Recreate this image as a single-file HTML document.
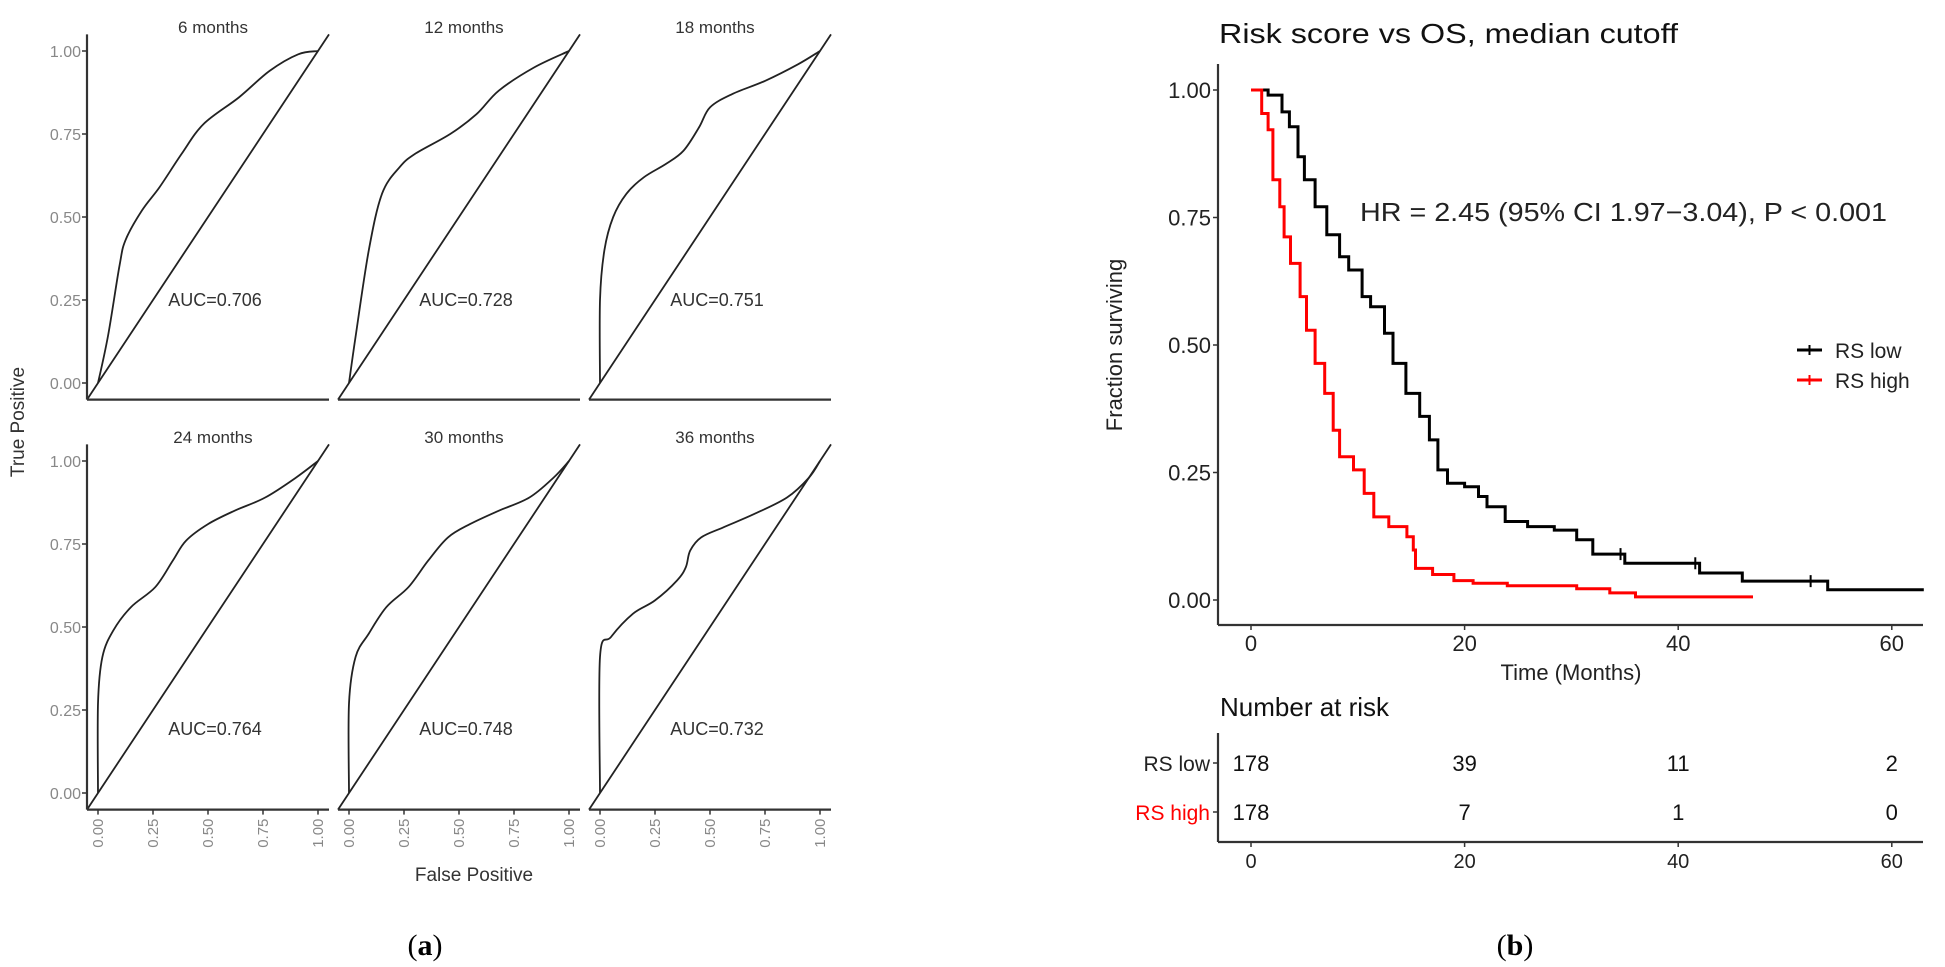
<!DOCTYPE html>
<html><head><meta charset="utf-8"><style>
html,body{margin:0;padding:0;background:#fff;}
svg{display:block;font-family:"Liberation Sans",Arial,sans-serif;}
</style></head><body>
<svg id="fig" width="1945" height="967" viewBox="0 0 1945 967" xmlns="http://www.w3.org/2000/svg">
<g id="roc"></g>
<g id="km"></g>
</svg>
<script>
// ---------- ROC data ----------
const rocTitles = ["6 months","12 months","18 months","24 months","30 months","36 months"];
const rocAUC = ["AUC=0.706","AUC=0.728","AUC=0.751","AUC=0.764","AUC=0.748","AUC=0.732"];
const roc6Fpr = [0,0.045,0.097,0.125,0.2,0.28,0.38,0.48,0.64,0.78,0.91,1];
const roc6Tpr = [0,0.14,0.35,0.43,0.52,0.59,0.69,0.78,0.86,0.94,0.99,1];
const roc12Fpr = [0,0.03,0.09,0.15,0.23,0.30,0.46,0.58,0.68,0.84,1];
const roc12Tpr = [0,0.14,0.40,0.57,0.65,0.69,0.75,0.81,0.88,0.95,1];
const roc18Fpr = [0,0,0.02,0.06,0.12,0.2,0.3,0.38,0.45,0.5,0.6,0.75,0.9,1];
const roc18Tpr = [0,0.25,0.4,0.5,0.57,0.62,0.66,0.7,0.77,0.83,0.87,0.91,0.96,1];
const roc24Fpr = [0,0,0.02,0.07,0.15,0.26,0.34,0.4,0.5,0.62,0.76,0.9,1];
const roc24Tpr = [0,0.27,0.41,0.49,0.56,0.62,0.70,0.76,0.81,0.85,0.89,0.95,1];
const roc30Fpr = [0,0,0.03,0.09,0.17,0.27,0.36,0.45,0.55,0.68,0.82,0.93,1];
const roc30Tpr = [0,0.27,0.41,0.48,0.56,0.62,0.70,0.77,0.81,0.85,0.89,0.95,1];
const roc36Fpr = [0,0,0.05,0.15,0.25,0.35,0.39,0.41,0.46,0.56,0.7,0.85,0.95,1];
const roc36Tpr = [0,0.41,0.47,0.54,0.58,0.64,0.68,0.73,0.77,0.80,0.84,0.89,0.95,1];
const rocTicks = [0,0.25,0.5,0.75,1];
const rocTickLabels = ["0.00","0.25","0.50","0.75","1.00"];

// ---------- KM data ----------
const kmLowT = [0,1.6,2.9,3.6,4.4,5.0,6.0,7.1,8.3,9.15,10.4,11.2,12.5,13.3,14.5,15.8,16.7,17.5,18.4,20,21.3,22.1,23.8,25.9,28.4,30.5,32,35,42,46,54];
const kmLowS = [1,0.99,0.957,0.928,0.869,0.824,0.771,0.716,0.673,0.647,0.595,0.575,0.523,0.464,0.405,0.36,0.314,0.255,0.229,0.222,0.203,0.183,0.154,0.144,0.137,0.118,0.09,0.072,0.053,0.037,0.02];
const kmLowEnd = 63;
const kmLowCensor = [34.6,41.6,52.4];
const kmHighT = [0,1.0,1.6,2.05,2.7,3.1,3.7,4.6,5.2,6.0,6.9,7.7,8.3,9.6,10.6,11.5,12.9,14.6,15.2,15.4,17,19,20.8,24,30.5,33.6,36];
const kmHighS = [1,0.954,0.922,0.824,0.771,0.712,0.660,0.595,0.529,0.464,0.405,0.333,0.281,0.255,0.209,0.163,0.144,0.124,0.098,0.062,0.05,0.038,0.033,0.028,0.022,0.014,0.006];
const kmHighEnd = 47;
const kmXTicks = [0,20,40,60];
const kmYTicks = [0,0.25,0.5,0.75,1];
const kmYTickLabels = ["0.00","0.25","0.50","0.75","1.00"];
const riskLow = ["178","39","11","2"];
const riskHigh = ["178","7","1","0"];

const NS = "http://www.w3.org/2000/svg";
function mk(parent, tag, attrs, text){
  const e = document.createElementNS(NS, tag);
  for (const k in attrs) e.setAttribute(k, attrs[k]);
  if (text !== undefined) e.textContent = text;
  parent.appendChild(e);
  return e;
}
function smoothPath(pts){
  let d = "M"+pts[0][0].toFixed(1)+","+pts[0][1].toFixed(1);
  for (let i=0;i<pts.length-1;i++){
    const p0=pts[Math.max(0,i-1)], p1=pts[i], p2=pts[i+1], p3=pts[Math.min(pts.length-1,i+2)];
    const c1x=p1[0]+(p2[0]-p0[0])/6, c1y=p1[1]+(p2[1]-p0[1])/6;
    const c2x=p2[0]-(p3[0]-p1[0])/6, c2y=p2[1]-(p3[1]-p1[1])/6;
    d+=" C"+c1x.toFixed(1)+","+c1y.toFixed(1)+" "+c2x.toFixed(1)+","+c2y.toFixed(1)+" "+p2[0].toFixed(1)+","+p2[1].toFixed(1);
  }
  return d;
}

// ---------- ROC panels ----------
const roc = document.getElementById("roc");
const fprs = [roc6Fpr,roc12Fpr,roc18Fpr,roc24Fpr,roc30Fpr,roc36Fpr];
const tprs = [roc6Tpr,roc12Tpr,roc18Tpr,roc24Tpr,roc30Tpr,roc36Tpr];
const panelX = [87,338,589];
const rowY0 = [383,793];
const UX = 220, UY = 332;
for (let p=0;p<6;p++){
  const col=p%3, row=Math.floor(p/3);
  const left=panelX[col], x0=left+11;
  const y0=rowY0[row];
  const sx = v => x0 + v*UX;
  const sy = v => y0 - v*UY;
  const g = mk(roc,"g",{});
  
  
  const top = sy(1.05), bot = sy(-0.05);
  const diag = mk(g,"line",{x1:sx(-0.05),y1:bot,x2:sx(1.05),y2:top,stroke:"#222","stroke-width":1.8});
  
  
  const pts = fprs[p].map((f,i)=>[sx(f), sy(tprs[p][i])]);
  const curve = mk(g,"path",{d:smoothPath(pts),fill:"none",stroke:"#222","stroke-width":1.8,"stroke-linejoin":"round"});
  
  
  const title = mk(g,"text",{x:left+126,y:row===0?33:443,"font-size":17,fill:"#333","text-anchor":"middle"},rocTitles[p]);
  
  
  const auc = mk(g,"text",{x:left+128,y:row===0?306:735,"font-size":18,fill:"#333","text-anchor":"middle"},rocAUC[p]);
  
  
  // x axis
  const xa = mk(g,"line",{x1:left,y1:bot,x2:left+242,y2:bot,stroke:"#333","stroke-width":2.2});
  
  
  if (row===1){
    rocTicks.forEach((t,i)=>{
      mk(g,"line",{x1:sx(t),y1:bot,x2:sx(t),y2:bot+5,stroke:"#333","stroke-width":1.5});
      const tl = mk(g,"text",{x:0,y:0,"font-size":15,fill:"#888","text-anchor":"end",transform:"translate("+(sx(t)+5)+","+(bot+9)+") rotate(-90)"},rocTickLabels[i]);
      
      
    });
  }
  if (col===0){
    const ya = mk(g,"line",{x1:left,y1:top,x2:left,y2:bot,stroke:"#333","stroke-width":2.2});
    
    
    rocTicks.forEach((t,i)=>{
      mk(g,"line",{x1:left-5,y1:sy(t),x2:left,y2:sy(t),stroke:"#333","stroke-width":1.5});
      const tl = mk(g,"text",{x:left-6,y:sy(t)+6,"font-size":16,fill:"#888","text-anchor":"end"},rocTickLabels[i]);
      
      
    });
  }
}
const rx = mk(roc,"text",{x:474,y:881,"font-size":19,fill:"#333","text-anchor":"middle"},"False Positive");


const ry = mk(roc,"text",{x:0,y:0,"font-size":19,fill:"#333","text-anchor":"middle",transform:"translate(24,422) rotate(-90)"},"True Positive");


const la = mk(roc,"text",{x:425,y:955,"font-size":30,fill:"#000","text-anchor":"middle","font-family":"Liberation Serif, serif"},"");


mk(la,"tspan",{},"(");
mk(la,"tspan",{"font-weight":"bold"},"a");
mk(la,"tspan",{},")");

// ---------- KM panel ----------
const km = document.getElementById("km");
const kx = t => 1251 + t*10.68;
const ky = s => 600 - s*510;
const kAxisX = 1218, kAxisB = 625, kRight = 1923;
function stepPath(T,S,end){
  let d = "M"+kx(T[0])+","+ky(S[0]);
  for (let i=1;i<T.length;i++){ d+=" H"+kx(T[i]).toFixed(1)+" V"+ky(S[i]).toFixed(1); }
  d+=" H"+kx(end).toFixed(1);
  return d;
}
const kt = mk(km,"text",{x:1219,y:43,"font-size":28,fill:"#111",textLength:459,lengthAdjust:"spacingAndGlyphs"},"Risk score vs OS, median cutoff");


const kya = mk(km,"line",{x1:kAxisX,y1:64,x2:kAxisX,y2:kAxisB,stroke:"#333","stroke-width":2.2});


const kxa = mk(km,"line",{x1:kAxisX,y1:kAxisB,x2:kRight,y2:kAxisB,stroke:"#333","stroke-width":2.2});


kmYTicks.forEach((v,i)=>{
  mk(km,"line",{x1:kAxisX-5,y1:ky(v),x2:kAxisX,y2:ky(v),stroke:"#333","stroke-width":1.5});
  const t = mk(km,"text",{x:kAxisX-7,y:ky(v)+8,"font-size":22,fill:"#222","text-anchor":"end"},kmYTickLabels[i]);
  
  
});
kmXTicks.forEach(v=>{
  mk(km,"line",{x1:kx(v),y1:kAxisB,x2:kx(v),y2:kAxisB+5,stroke:"#333","stroke-width":1.5});
  const t = mk(km,"text",{x:kx(v),y:651,"font-size":22,fill:"#222","text-anchor":"middle"},String(v));
  
  
});
const kxt = mk(km,"text",{x:1571,y:680,"font-size":22,fill:"#222","text-anchor":"middle"},"Time (Months)");


const kyt = mk(km,"text",{x:0,y:0,"font-size":22,fill:"#222","text-anchor":"middle",transform:"translate(1122,345) rotate(-90)"},"Fraction surviving");


const hr = mk(km,"text",{x:1360,y:221,"font-size":26,fill:"#222",textLength:527,lengthAdjust:"spacingAndGlyphs"},"HR = 2.45 (95% CI 1.97\u22123.04), P < 0.001");


const lowLine = mk(km,"path",{d:stepPath(kmLowT,kmLowS,kmLowEnd),fill:"none",stroke:"#000","stroke-width":3});


kmLowCensor.forEach(t=>{
  let s = kmLowS[0];
  for (let i=0;i<kmLowT.length;i++) if (kmLowT[i]<=t) s=kmLowS[i];
  const c = mk(km,"line",{x1:kx(t),y1:ky(s)-6,x2:kx(t),y2:ky(s)+6,stroke:"#000","stroke-width":2});
  
  
});
const highLine = mk(km,"path",{d:stepPath(kmHighT,kmHighS,kmHighEnd),fill:"none",stroke:"#f00","stroke-width":3});


// legend
[["RS low","#000",350],["RS high","#f00",380]].forEach(([lab,col,y])=>{
  const g = mk(km,"g",{});
  
  
  mk(g,"line",{x1:1797,y1:y,x2:1822,y2:y,stroke:col,"stroke-width":3});
  mk(g,"line",{x1:1809.5,y1:y-5,x2:1809.5,y2:y+5,stroke:col,"stroke-width":2});
  mk(g,"text",{x:1835,y:y+8,"font-size":21,fill:"#222"},lab);
});
// risk table
const nr = mk(km,"text",{x:1220,y:716,"font-size":26,fill:"#111"},"Number at risk");


const rta = mk(km,"line",{x1:kAxisX,y1:733,x2:kAxisX,y2:842,stroke:"#333","stroke-width":2.2});


const rtb = mk(km,"line",{x1:kAxisX,y1:842,x2:kRight,y2:842,stroke:"#333","stroke-width":2.2});


[["RS low","#222",763,riskLow],["RS high","#f00",812,riskHigh]].forEach(([lab,col,y,vals])=>{
  mk(km,"line",{x1:kAxisX-5,y1:y,x2:kAxisX,y2:y,stroke:"#333","stroke-width":1.5});
  const l = mk(km,"text",{x:kAxisX-8,y:y+8,"font-size":21,fill:col,"text-anchor":"end"},lab);
  
  
  vals.forEach((v,i)=>{
    const t = mk(km,"text",{x:kx(kmXTicks[i]),y:y+8,"font-size":22,fill:"#111","text-anchor":"middle"},v);
    
    
  });
});
kmXTicks.forEach(v=>{
  mk(km,"line",{x1:kx(v),y1:842,x2:kx(v),y2:847,stroke:"#333","stroke-width":1.5});
  const t = mk(km,"text",{x:kx(v),y:868,"font-size":20,fill:"#222","text-anchor":"middle"},String(v));
  
  
});
const lb = mk(km,"text",{x:1515,y:955,"font-size":30,fill:"#000","text-anchor":"middle","font-family":"Liberation Serif, serif"},"");


mk(lb,"tspan",{},"(");
mk(lb,"tspan",{"font-weight":"bold"},"b");
mk(lb,"tspan",{},")");
</script>
</body></html>
